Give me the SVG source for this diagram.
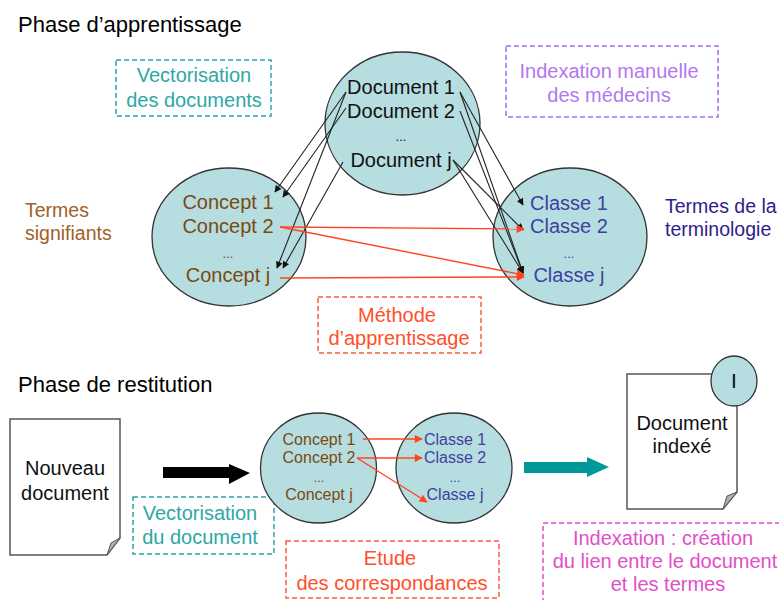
<svg xmlns="http://www.w3.org/2000/svg" width="779" height="600" viewBox="0 0 779 600">
  <defs>
    <marker id="headBlack" viewBox="0 0 10 10" refX="9" refY="5" markerWidth="8" markerHeight="7" markerUnits="userSpaceOnUse" orient="auto">
      <path d="M0,0 L10,5 L0,10 Z" fill="#111"/>
    </marker>
    <marker id="headRed" viewBox="0 0 10 10" refX="9" refY="5" markerWidth="10" markerHeight="8" markerUnits="userSpaceOnUse" orient="auto">
      <path d="M0,0 L10,5 L0,10 Z" fill="#ff4422"/>
    </marker>
    <style>
      text { font-family: "Liberation Sans", Arial, sans-serif; }
      .title { font-size: 22px; fill: #000; }
      .bubble { fill: #b6dde0; stroke: #333; stroke-width: 1.3; }
      .doc { fill: #111; font-size: 20px; text-anchor: middle; }
      .concept { fill: #7a4a12; font-size: 20px; text-anchor: middle; }
      .classe { fill: #3f3f9f; font-size: 20px; text-anchor: middle; }
      .small { font-size: 16px; }
      .dots { font-size: 13px; }
      .note { font-size: 20px; text-anchor: middle; }
      .dash { fill: none; stroke-width: 1.5; stroke-dasharray: 5 3; }
      .teal { fill: #2ea7a7; }
      .tealBox { stroke: #2ea3a3; }
      .violet { fill: #b377f0; }
      .violetBox { stroke: #a46cf0; }
      .orange { fill: #ff4f2a; }
      .orangeBox { stroke: #ff5a3a; }
      .magenta { fill: #df4fc8; }
      .magentaBox { stroke: #d84fc4; }
      .link { stroke: #222; stroke-width: 1.1; fill: none; marker-end: url(#headBlack); }
      .redlink { stroke: #ff4422; stroke-width: 1.4; fill: none; marker-end: url(#headRed); }
      .page { fill: #fff; stroke: #555; stroke-width: 1.5; }
      .fold { fill: #b0b0b0; stroke: #555; stroke-width: 1; }
    </style>
  </defs>

  <!-- Learning phase -->
  <text class="title" x="18" y="32">Phase d’apprentissage</text>

  <g id="vectorisation-docs">
    <rect class="dash tealBox" x="116" y="60" width="155" height="56"/>
    <text class="note teal" x="194" y="82">Vectorisation</text>
    <text class="note teal" x="194" y="107">des documents</text>
  </g>

  <g id="indexation-manuelle">
    <rect class="dash violetBox" x="506" y="46" width="212" height="71"/>
    <text class="note violet" x="609" y="78">Indexation manuelle</text>
    <text class="note violet" x="609" y="102">des médecins</text>
  </g>

  <g id="termes-signifiants">
    <text x="25" y="217" font-size="19.5" fill="#a0602a">Termes</text>
    <text x="25" y="240" font-size="19.5" fill="#a0602a">signifiants</text>
  </g>

  <g id="termes-terminologie">
    <text x="665" y="213" font-size="19.5" fill="#2d1d8d">Termes de la</text>
    <text x="665" y="236" font-size="19.5" fill="#2d1d8d">terminologie</text>
  </g>

  <g id="documents">
    <ellipse class="bubble" cx="402.5" cy="123.5" rx="77.5" ry="71.5"/>
    <text class="doc" x="401" y="94">Document 1</text>
    <text class="doc" x="401" y="118">Document 2</text>
    <text class="doc dots" x="401" y="141">...</text>
    <text class="doc" x="401" y="167">Document j</text>
  </g>

  <g id="concepts">
    <ellipse class="bubble" cx="229" cy="237" rx="77" ry="69"/>
    <text class="concept" x="228" y="209">Concept 1</text>
    <text class="concept" x="228" y="233">Concept 2</text>
    <text class="concept dots" x="228" y="258">...</text>
    <text class="concept" x="228" y="282">Concept j</text>
  </g>

  <g id="classes">
    <ellipse class="bubble" cx="570" cy="237" rx="77" ry="69"/>
    <text class="classe" x="569" y="210">Classe 1</text>
    <text class="classe" x="569" y="233">Classe 2</text>
    <text class="classe dots" x="569" y="258">...</text>
    <text class="classe" x="569" y="282">Classe j</text>
  </g>

  <g id="methode">
    <rect class="dash orangeBox" x="318" y="297" width="163" height="56"/>
    <text class="note orange" x="397" y="322">Méthode</text>
    <text class="note orange" x="399" y="345">d’apprentissage</text>
  </g>

  <!-- Restitution phase -->
  <text class="title" x="18" y="392">Phase de restitution</text>

  <g id="nouveau-document">
    <path class="page" d="M10,419 L120,419 L120,538 L107,555 L10,555 Z"/>
    <path class="fold" d="M107,555 L111,543 L120,538 Z"/>
    <text class="note" x="65" y="475" fill="#111">Nouveau</text>
    <text class="note" x="65" y="500" fill="#111">document</text>
  </g>

  <g id="vectorisation-doc">
    <rect class="dash tealBox" x="133" y="497" width="141" height="57"/>
    <text class="note teal" x="200" y="520">Vectorisation</text>
    <text class="note teal" x="200" y="544">du document</text>
  </g>

  <g id="concepts-restitution">
    <ellipse class="bubble" cx="318.5" cy="468" rx="58" ry="55"/>
    <text class="concept small" x="319" y="445">Concept 1</text>
    <text class="concept small" x="319" y="463">Concept 2</text>
    <text class="concept dots" x="319" y="482" font-size="11">...</text>
    <text class="concept small" x="319" y="500">Concept j</text>
  </g>

  <g id="classes-restitution">
    <ellipse class="bubble" cx="454" cy="468" rx="58" ry="55"/>
    <text class="classe small" x="455" y="445">Classe 1</text>
    <text class="classe small" x="455" y="463">Classe 2</text>
    <text class="classe dots" x="455" y="482" font-size="11">...</text>
    <text class="classe small" x="455" y="500">Classe j</text>
  </g>

  <g id="etude">
    <rect class="dash orangeBox" x="286" y="541" width="213" height="57"/>
    <text class="note orange" x="390" y="565">Etude</text>
    <text class="note orange" x="392" y="590">des correspondances</text>
  </g>

  <g id="document-indexe">
    <path class="page" d="M627,374 L737,374 L737,492 L723,509 L627,509 Z"/>
    <path class="fold" d="M723,509 L727,496 L737,492 Z"/>
    <ellipse class="bubble" cx="734" cy="381" rx="23" ry="25"/>
    <text x="734" y="388" font-family="'Liberation Serif', 'Times New Roman', serif" font-size="21" text-anchor="middle" fill="#111">I</text>
    <text class="note" x="682" y="430" fill="#111">Document</text>
    <text class="note" x="682" y="453" fill="#111">indexé</text>
  </g>

  <g id="indexation-creation">
    <rect class="dash magentaBox" x="543" y="523" width="260" height="100"/>
    <text class="note magenta" x="663" y="545">Indexation : création</text>
    <text class="note magenta" x="665" y="568">du lien entre le document</text>
    <text class="note magenta" x="668" y="591">et les termes</text>
  </g>

  <g id="connectors">
    <!-- documents to concepts -->
    <line class="link" x1="346" y1="92" x2="275" y2="192"/>
    <line class="link" x1="346" y1="92" x2="277" y2="268"/>
    <line class="link" x1="346" y1="108" x2="283" y2="197"/>
    <line class="link" x1="343" y1="162" x2="283" y2="268"/>
    <!-- documents to classes -->
    <line class="link" x1="460" y1="92" x2="523" y2="205"/>
    <line class="link" x1="460" y1="92" x2="523" y2="273"/>
    <line class="link" x1="460" y1="111" x2="523" y2="273"/>
    <line class="link" x1="453" y1="160" x2="523" y2="230"/>
    <line class="link" x1="453" y1="160" x2="523" y2="273"/>
    <!-- concepts to classes -->
    <line class="redlink" x1="280" y1="227" x2="524" y2="229"/>
    <line class="redlink" x1="280" y1="227" x2="524" y2="275"/>
    <line class="redlink" x1="280" y1="278" x2="524" y2="277"/>

    <!-- restitution: concepts to classes -->
    <line class="redlink" x1="363" y1="439" x2="422" y2="439"/>
    <line class="redlink" x1="357" y1="458" x2="422" y2="458"/>
    <line class="redlink" x1="357" y1="458" x2="427" y2="502"/>

    <!-- block arrows -->
    <path d="M163,467 L229,467 L229,464 L250,473 L229,484 L229,478 L163,478 Z" fill="#000"/>
    <path d="M524,462 L587,462 L587,457 L609,467 L587,477 L587,473 L524,473 Z" fill="#009999"/>
  </g>
</svg>
